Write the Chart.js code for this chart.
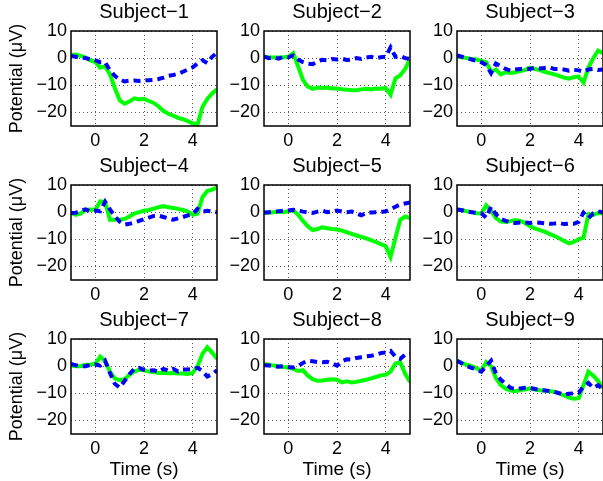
<!DOCTYPE html>
<html>
<head>
<meta charset="utf-8">
<script src="https://cdn.jsdelivr.net/npm/chart.js@4.4.0/dist/chart.umd.min.js"></script>
<style>
  html, body { margin: 0; padding: 0; background: #fff; }
  body { position: relative; width: 603px; height: 481px; overflow: hidden; }
</style>
</head>
<body>
<script>
const TIME = [-1, -0.8, -0.6, -0.4, -0.2, 0, 0.2, 0.4, 0.6, 0.8, 1, 1.2, 1.4, 1.6, 1.8, 2,
  2.2, 2.4, 2.6, 2.8, 3, 3.2, 3.4, 3.6, 3.8, 4, 4.2, 4.4, 4.6, 4.8, 5];
const X_TICKS = [0, 2, 4];
const Y_TICKS = [-20, -10, 0, 10];
const SUBJECTS = ["Subject\u22121", "Subject\u22122", "Subject\u22123", "Subject\u22124", "Subject\u22125",
  "Subject\u22126", "Subject\u22127", "Subject\u22128", "Subject\u22129"];

// solid green trace and dashed blue trace for each subject (µV)
const S1_GREEN = [1.2, 1.3, 0.8, 0.2, -0.8, -1.5, -3.5, -3, -6, -11, -15.5, -16.8, -16, -14.8, -15.2, -15,
  -15.8, -16.5, -17.8, -19.5, -20.5, -21.2, -22, -22.5, -23.2, -24, -24.5, -18, -15, -13, -11.5];
const S1_BLUE = [0.8, 0.5, 0.3, 0, -0.5, -0.8, -1.5, -1.5, -4.5, -6.5, -7.8, -8.6, -8.3, -8.2, -8.4, -8.2,
  -8.1, -8, -7.7, -7.2, -6.5, -6.2, -5.8, -5, -4.2, -3.4, -2, -0.8, -1.8, 0.5, 2];
const S2_GREEN = [0.5, 0.3, 0.2, 0.2, 0.3, 0.5, 1.8, -3, -8, -10.5, -11.3, -10.8, -11, -10.8, -11.2, -11.2,
  -11.5, -11.6, -11.8, -11.8, -11.5, -11.3, -11.5, -11.2, -11.3, -11, -13.5, -7.5, -6.3, -4, -0.5];
const S2_BLUE = [0.5, 0, 0.3, -0.2, 0.5, 0.3, 1, -0.5, -1.5, -2, -2.2, -1.2, -0.6, -0.8, -0.3, -0.5,
  -0.2, -0.7, -0.5, 0, -0.3, 0.2, 0.5, 0, 0.3, 0.5, 4, 0.5, 0.8, 0, -0.3];
const S3_GREEN = [0.5, 0.3, 0, -0.3, -0.5, -1, -1.5, -5, -4.2, -6, -5.2, -5.5, -5.2, -4.8, -4.3, -3.5,
  -4, -4.4, -5, -5.5, -6, -6.5, -7.2, -7.6, -7, -6.8, -9, -3.5, 0, 2.8, 1.8];
const S3_BLUE = [1, 0.5, 0, -0.5, -1, -1.5, -2.5, -5.5, -2, -3, -4, -4.6, -4.2, -4, -3.8, -4,
  -3.5, -3.8, -3.6, -3.4, -4, -4, -4.2, -4.6, -4.3, -4.5, -5, -4.2, -4, -4.4, -4.2];
const S4_GREEN = [-0.3, -1, -0.5, 0.8, 1, 0.8, 4, 3.8, -2.8, -2.8, -2.8, -2.5, -1.6, -0.5, 0, 0.5,
  0.8, 1.3, 1.8, 2.2, 1.8, 1.5, 1.2, 0.8, 0.2, -1, -0.5, 5.5, 7.8, 8.3, 9];
const S4_BLUE = [-0.3, -0.2, 0.5, 1, 0.3, 0.6, 0.3, 3.8, 1, -1.5, -3.5, -4.6, -4.3, -3.8, -3.2, -2.6,
  -2, -1.4, -1.3, -1.8, -2.3, -2.8, -2.3, -1.8, -1.2, -0.8, 1.2, 0.2, 0.5, 0.2, 0];
const S5_GREEN = [0, -0.2, 0, 0.2, 0, 0.3, 0.8, -1, -3.2, -5.2, -6.6, -6.2, -5.6, -5.9, -6.2, -6.4,
  -6.8, -7.4, -8, -8.6, -9.1, -9.7, -10.3, -11, -11.8, -12.5, -16.5, -9.5, -2.8, -1.6, -2.2];
const S5_BLUE = [-0.2, 0, 0.2, 0.3, 0.5, 0.6, 0.9, 0.6, 0.2, -0.1, -0.3, 0.2, 0.6, 0, 0.3, 0.6,
  0.2, 0, 0.2, -0.5, -1.2, -0.3, -0.1, 0, 0, 0.3, 1, 2, 2.8, 3.2, 3.6];
const S6_GREEN = [1, 0.8, 0.3, 0, -0.4, -0.5, 2.5, 0.5, -2.2, -3.5, -3.6, -3.3, -2.9, -3.2, -4, -5.2,
  -6, -6.6, -7.2, -8, -8.8, -9.6, -10.6, -11.5, -11, -10, -9.4, -0.8, -1, -0.3, -0.5];
const S6_BLUE = [1, 0.7, 0.2, 0, -0.3, -0.4, -2, 2, -0.8, -2.5, -3.2, -3.7, -4, -3.8, -3.8, -4,
  -3.7, -3.9, -4.1, -4.3, -4.2, -4, -4.4, -4.2, -4.3, -3.6, -0.2, -2.2, -0.4, 0.3, -0.1];
const S7_GREEN = [0.2, 0, 0, 0.5, 0.6, 0.8, 3.5, 1.8, -2, -4.5, -5.2, -4.8, -3.2, -2, -1.3, -1.5,
  -2, -2.2, -2.5, -2.4, -2.6, -2.5, -2.7, -2.7, -2.9, -2.5, 0, 4.5, 7, 5, 2.7];
const S7_BLUE = [0.8, 0.3, 0, 0, 0.5, 0.6, 0.2, 2, -2.5, -6.5, -7.9, -5.5, -3, -1, -0.6, -1.4,
  -1.6, -1.5, -2.1, -1, -1.7, -1, -2, -1.2, -1.2, -1, -0.6, -1.8, -3.8, -3, -1.5];
const S8_GREEN = [0.8, 0.5, 0.2, 0, -0.3, -0.5, -1, -1.8, -1.5, -3.5, -4.8, -5.4, -5.3, -5, -4.8, -5,
  -6, -5.6, -6, -5.8, -5.4, -5, -4.5, -4, -3.4, -3.2, -2, 1, 1.4, -2.8, -5.8];
const S8_BLUE = [0.3, 0.2, 0, -0.2, 0, -0.3, -0.5, 0, 1.2, 2, 1.8, 1.5, 1.4, 1.6, 1, 0.2,
  1.8, 2.5, 2.4, 3, 3.3, 3.6, 3.8, 4.2, 4.8, 5, 5.6, 3.5, 2.7, 4.2, 4.6];
const S9_GREEN = [2, 1.2, 0.5, 0, -0.8, -1.8, 1.5, 0, -4.5, -7, -8.3, -9, -9.2, -8.8, -8.6, -8.2,
  -8.6, -8.9, -9, -9.2, -9.4, -10, -10.8, -11.6, -12, -11.8, -7, -2, -3.5, -5.5, -8];
const S9_BLUE = [2, 1, 0, -0.6, -1.3, -2, 0, 2, -2.8, -5, -6.5, -8, -8.4, -8.2, -8, -8,
  -8.4, -8.8, -9, -9.2, -9.5, -10, -10.4, -10.2, -10, -9.8, -7.5, -6.2, -8, -7, -8.5];

const GREEN_SERIES = [S1_GREEN, S2_GREEN, S3_GREEN, S4_GREEN, S5_GREEN, S6_GREEN, S7_GREEN, S8_GREEN, S9_GREEN];
const BLUE_SERIES = [S1_BLUE, S2_BLUE, S3_BLUE, S4_BLUE, S5_BLUE, S6_BLUE, S7_BLUE, S8_BLUE, S9_BLUE];

const COL_LEFT = [71, 264, 457];
const ROW_TOP = [31, 185, 339];
const BOX_W = 146;
const BOX_H = 95;
const TITLE_H = 31;
const FONT = '"Liberation Sans", Arial, Helvetica, sans-serif';

const boxPlugin = {
  id: "box",
  afterDatasetsDraw(chart) {
    const { ctx, chartArea: a } = chart;
    ctx.save();
    ctx.strokeStyle = "#000";
    ctx.lineWidth = 1.5;
    ctx.strokeRect(a.left, a.top, a.right - a.left, a.bottom - a.top);
    ctx.restore();
  },
};

function minusSign(v) {
  return String(v).replace("-", "\u2212");
}

function toPoints(values) {
  return TIME.map((t, k) => ({ x: t, y: values[k] }));
}

function makePanel(i) {
  const row = Math.floor(i / 3);
  const col = i % 3;
  const yw = col === 0 ? 71 : 45;
  const xh = row === 2 ? 48 : 24;
  const w = yw + BOX_W + 4;
  const h = TITLE_H + BOX_H + xh;

  const canvas = document.createElement("canvas");
  canvas.width = w;
  canvas.height = h;
  canvas.style.cssText = `position:absolute;left:${COL_LEFT[col] - yw}px;top:${ROW_TOP[row] - TITLE_H}px;width:${w}px;height:${h}px`;
  document.body.appendChild(canvas);

  const tickFont = { family: FONT, size: 18 };

  new Chart(canvas, {
    type: "line",
    data: {
      datasets: [
        {
          data: toPoints(BLUE_SERIES[i]),
          borderColor: "#0000ff",
          borderWidth: 4,
          borderDash: [7, 5],
          pointRadius: 0,
          fill: false,
          clip: 0,
        },
        {
          data: toPoints(GREEN_SERIES[i]),
          borderColor: "#00ff00",
          borderWidth: 4,
          pointRadius: 0,
          fill: false,
          clip: 0,
        },
      ],
    },
    options: {
      responsive: false,
      animation: false,
      devicePixelRatio: 1,
      layout: { padding: { left: 0, right: 4, top: 0, bottom: 0 } },
      plugins: {
        legend: { display: false },
        tooltip: { enabled: false },
        title: {
          display: true,
          fullSize: false,
          text: SUBJECTS[i],
          color: "#000",
          font: { family: FONT, size: 20, weight: "normal" },
          padding: { top: 0, bottom: 7 },
        },
      },
      scales: {
        x: {
          type: "linear",
          min: -1,
          max: 5,
          afterBuildTicks: (s) => { s.ticks = X_TICKS.map((v) => ({ value: v })); },
          afterFit: (s) => { s.height = xh; },
          ticks: { color: "#000", font: tickFont, padding: 4, maxRotation: 0, autoSkip: false, callback: minusSign },
          grid: { color: "#555", lineWidth: 1, drawTicks: false },
          border: { display: false, dash: [1, 3] },
          title: {
            display: row === 2,
            text: "Time (s)",
            color: "#000",
            font: { family: FONT, size: 19 },
            padding: { top: 0, bottom: 0.6 },
          },
        },
        y: {
          min: -25,
          max: 10,
          afterBuildTicks: (s) => { s.ticks = Y_TICKS.map((v) => ({ value: v })); },
          afterFit: (s) => { s.width = yw; },
          ticks: { color: "#000", font: tickFont, padding: 4, callback: minusSign },
          grid: { color: "#555", lineWidth: 1, drawTicks: false },
          border: { display: false, dash: [1, 3] },
          title: {
            display: col === 0,
            text: "Potential (\u03bcV)",
            color: "#000",
            font: { family: FONT, size: 18 },
            padding: { top: 6.7, bottom: 0 },
          },
        },
      },
    },
    plugins: [boxPlugin],
  });
}

for (let i = 0; i < 9; i += 1) {
  makePanel(i);
}
</script>
</body>
</html>
